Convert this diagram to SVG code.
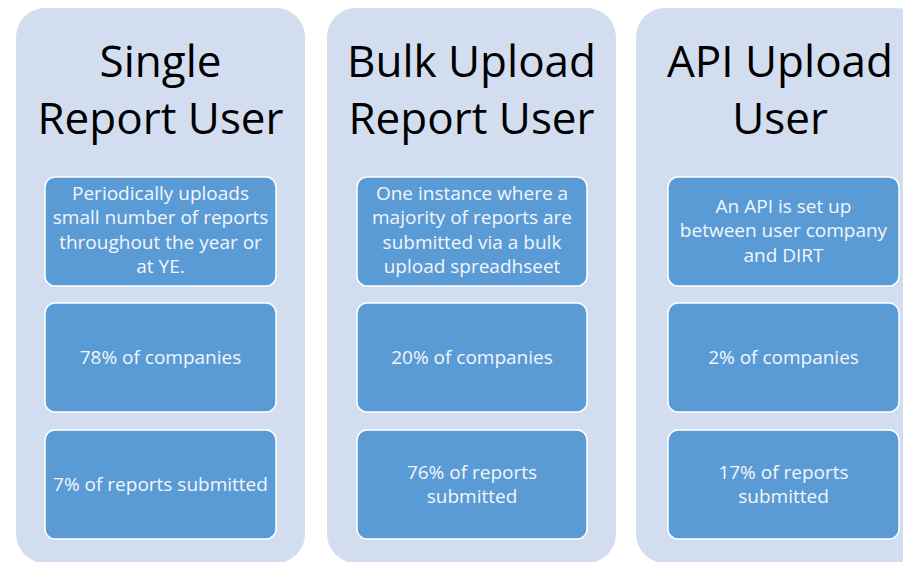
<svg xmlns="http://www.w3.org/2000/svg" width="903" height="562" viewBox="0 0 903 562">
<style>
.panel{fill:#D2DEEF;}
.box{fill:#5B9BD5;stroke:#FFFFFF;stroke-width:1.5;}
.title{font-family:"Open Sans","Liberation Sans",sans-serif;font-size:44px;fill:#000000;text-anchor:middle;}
.txt{font-family:"Open Sans","Liberation Sans",sans-serif;font-size:19px;fill:#F2F6FB;text-anchor:middle;}
</style>
<rect width="903" height="562" fill="#FFFFFF"/>
<g id="panel-single">
<rect class="panel" x="16" y="8" width="289" height="555" rx="29"/>
<text class="title" x="160.5" y="77">Single</text>
<text class="title" x="160.5" y="134">Report User</text>
</g>
<g id="single-desc">
<rect class="box" x="45" y="177" width="231" height="109" rx="10"/>
<text class="txt" x="160.5" y="199.5">Periodically uploads</text>
<text class="txt" x="160.5" y="224">small number of reports</text>
<text class="txt" x="160.5" y="248.5">throughout the year or</text>
<text class="txt" x="160.5" y="273">at YE.</text>
</g>
<g id="single-companies">
<rect class="box" x="45" y="303" width="231" height="109" rx="10"/>
<text class="txt" x="160.5" y="363.5">78% of companies</text>
</g>
<g id="single-reports">
<rect class="box" x="45" y="430" width="231" height="109" rx="10"/>
<text class="txt" x="160.5" y="490.5">7% of reports submitted</text>
</g>
<g id="panel-bulk">
<rect class="panel" x="327" y="8" width="289" height="555" rx="29"/>
<text class="title" x="471.5" y="77">Bulk Upload</text>
<text class="title" x="471.5" y="134">Report User</text>
</g>
<g id="bulk-desc">
<rect class="box" x="357" y="177" width="230" height="109" rx="10"/>
<text class="txt" x="472" y="199.5">One instance where a</text>
<text class="txt" x="472" y="224">majority of reports are</text>
<text class="txt" x="472" y="248.5">submitted via a bulk</text>
<text class="txt" x="472" y="273">upload spreadhseet</text>
</g>
<g id="bulk-companies">
<rect class="box" x="357" y="303" width="230" height="109" rx="10"/>
<text class="txt" x="472" y="363.5">20% of companies</text>
</g>
<g id="bulk-reports">
<rect class="box" x="357" y="430" width="230" height="109" rx="10"/>
<text class="txt" x="472" y="478.5">76% of reports</text>
<text class="txt" x="472" y="503">submitted</text>
</g>
<g id="panel-api">
<rect class="panel" x="636" y="8" width="289" height="555" rx="29"/>
<text class="title" x="780" y="77">API Upload</text>
<text class="title" x="780" y="134">User</text>
</g>
<g id="api-desc">
<rect class="box" x="668" y="177" width="231" height="109" rx="10"/>
<text class="txt" x="783.5" y="212.5">An API is set up</text>
<text class="txt" x="783.5" y="237">between user company</text>
<text class="txt" x="783.5" y="261.5">and DIRT</text>
</g>
<g id="api-companies">
<rect class="box" x="668" y="303" width="231" height="109" rx="10"/>
<text class="txt" x="783.5" y="363.5">2% of companies</text>
</g>
<g id="api-reports">
<rect class="box" x="668" y="430" width="231" height="109" rx="10"/>
<text class="txt" x="783.5" y="478.5">17% of reports</text>
<text class="txt" x="783.5" y="503">submitted</text>
</g>
<g id="connectors"></g>
</svg>
